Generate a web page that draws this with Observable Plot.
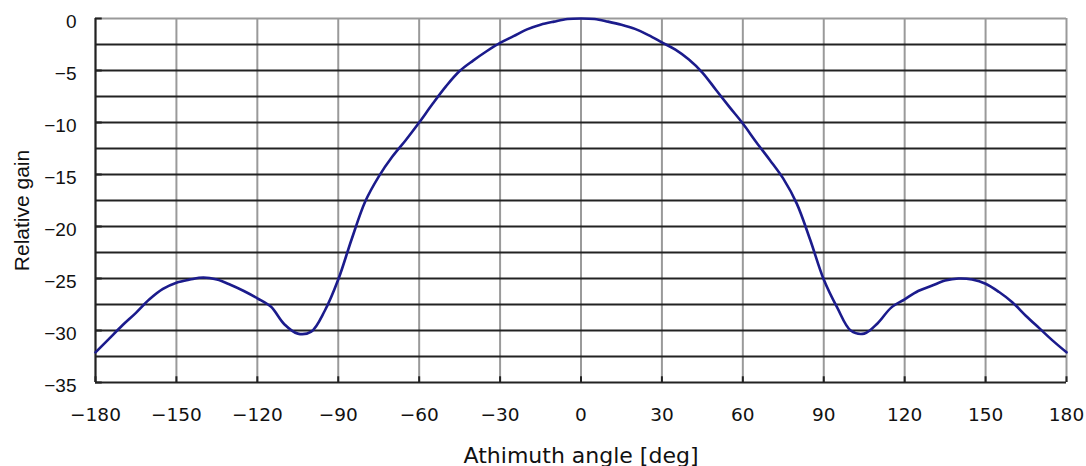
<!DOCTYPE html>
<html>
<head>
<meta charset="utf-8">
<script src="https://cdn.jsdelivr.net/npm/d3@7"></script>
<script src="https://cdn.jsdelivr.net/npm/@observablehq/plot@0.6"></script>
<style>
  html, body { margin: 0; padding: 0; background: #fff; }
  #chart svg { display: block; background: #fff; }
</style>
</head>
<body>
<div id="chart"></div>
<script>
const angles = [-180,-175,-170,-165,-160,-155,-150,-145,-140,-135,-130,-125,-120,-115,-110,-105,-100,-95,-90,-85,-80,-75,-70,-65,-60,-55,-50,-45,-40,-35,-30,-25,-20,-15,-10,-5,0,
  5,10,15,20,25,30,35,40,45,50,55,60,65,70,75,80,85,90,95,100,105,110,115,120,125,130,135,140,145,150,155,160,165,170,175,180];
const gains = [-32.1,-30.8,-29.5,-28.3,-27.0,-26.0,-25.4,-25.1,-24.9,-25.1,-25.6,-26.2,-26.9,-27.7,-29.4,-30.3,-30.1,-28.1,-25.1,-21.2,-17.6,-15.2,-13.3,-11.7,-10.0,-8.2,-6.5,-5.05,-4.05,-3.15,-2.35,-1.7,-1.05,-0.6,-0.3,-0.05,0,
  -0.05,-0.3,-0.6,-1.0,-1.6,-2.3,-3.0,-3.95,-5.2,-6.85,-8.5,-10.1,-11.9,-13.6,-15.4,-17.8,-21.3,-25.1,-27.8,-30.0,-30.3,-29.3,-27.8,-27.0,-26.2,-25.7,-25.2,-25.0,-25.1,-25.5,-26.3,-27.3,-28.6,-29.8,-31.0,-32.1];
const xTicks = [-180,-150,-120,-90,-60,-30,0,30,60,90,120,150,180];
const xTickLabels = ["\u2212180","\u2212150","\u2212120","\u221290","\u221260","\u221230","0","30","60","90","120","150","180"];
const yTicks = [0,-5,-10,-15,-20,-25,-30,-35];
const yTickLabels = ["0","\u22125","\u221210","\u221215","\u221220","\u221225","\u221230","\u221235"];
const hLines = [-2.5,-5,-7.5,-10,-12.5,-15,-17.5,-20,-22.5,-25,-27.5,-30,-32.5];
const xLabel = "Athimuth angle [deg]";
const yLabel = "Relative gain";

const data = angles.map((a, i) => ({angle: a, gain: gains[i]}));

const chart = Plot.plot({
  width: 1086,
  height: 466,
  marginLeft: 95,
  marginRight: 20,
  marginTop: 18,
  marginBottom: 84,
  style: {fontFamily: "'Liberation Sans', Arial, sans-serif", background: "#fff", overflow: "visible"},
  x: {domain: [-180, 180], axis: null},
  y: {domain: [-35, 0], axis: null},
  marks: [
    Plot.ruleX(xTicks, {stroke: "#9a9a9a", strokeWidth: 2}),
    Plot.ruleY([0], {stroke: "#9a9a9a", strokeWidth: 2}),
    Plot.ruleY(hLines, {stroke: "#222", strokeWidth: 2}),
    Plot.ruleY([-35], {stroke: "#222", strokeWidth: 2}),
    Plot.ruleX([-180], {stroke: "#222", strokeWidth: 2}),
    Plot.ruleX(xTicks, {y1: -35, y2: -34.45, stroke: "#222", strokeWidth: 2}),
    Plot.ruleY(yTicks, {x1: -180, x2: -177.5, stroke: "#222", strokeWidth: 2}),
    Plot.line(data, {x: "angle", y: "gain", curve: "catmull-rom", stroke: "#1b1b8c", strokeWidth: 2.6}),
    Plot.text(xTicks, {x: d => d, y: -35, dy: 33, text: (d, i) => xTickLabels[i], fontSize: 18.5, fontFamily: "'DejaVu Sans', sans-serif", fill: "#111", textAnchor: "middle"}),
    Plot.text(yTicks, {x: -180, y: d => d, dx: -19, dy: 3, text: (d, i) => yTickLabels[i], fontSize: 19, fill: "#111", textAnchor: "end"}),
    Plot.text([xLabel], {frameAnchor: "bottom", dy: 80, text: d => d, fontSize: 22, fontFamily: "'DejaVu Sans', sans-serif", fill: "#111", textAnchor: "middle"}),
    Plot.text([yLabel], {frameAnchor: "left", dx: -73, dy: 10, rotate: -90, text: d => d, fontSize: 21, fill: "#111", textAnchor: "middle"})
  ]
});
document.getElementById("chart").appendChild(chart);
</script>
</body>
</html>
